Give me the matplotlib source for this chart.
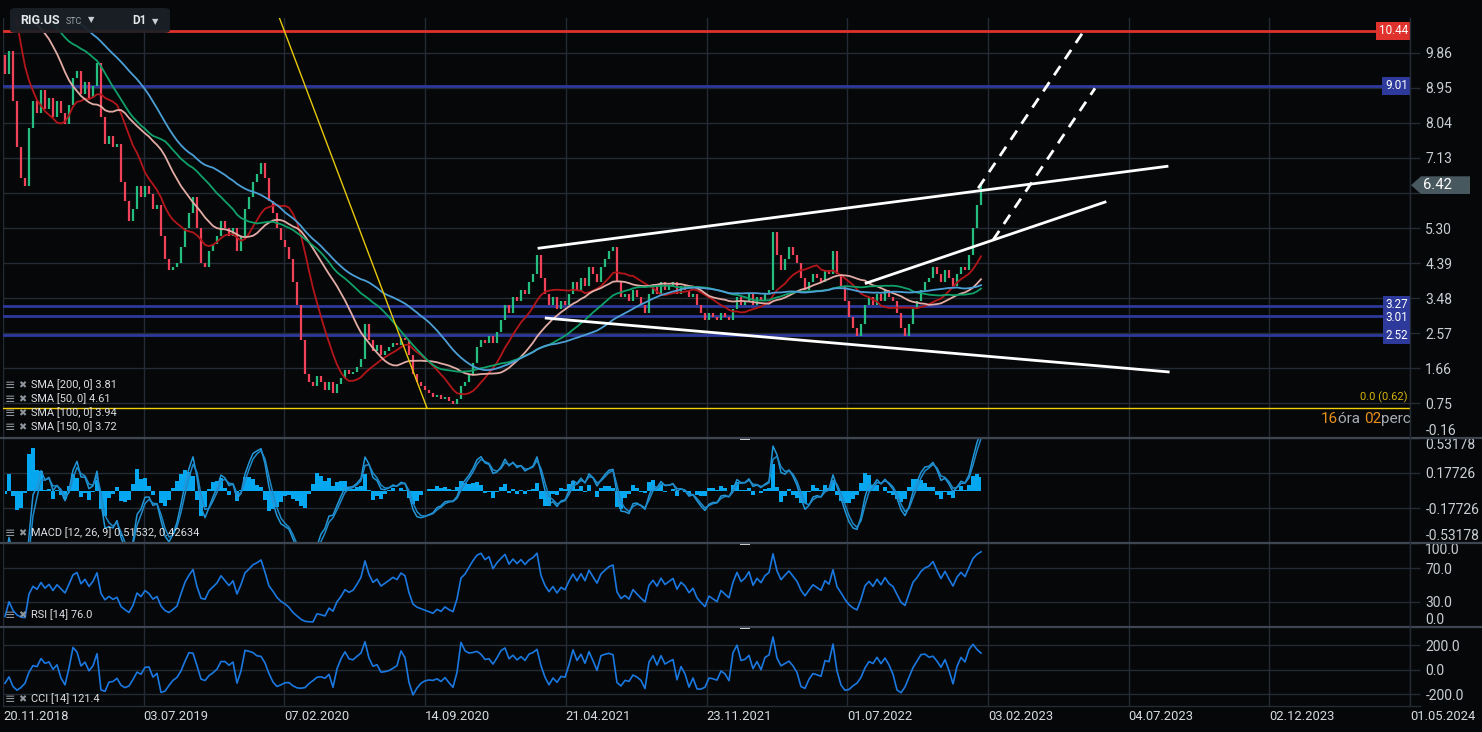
import numpy as np
import pandas as pd
import matplotlib
matplotlib.use("Agg")
import matplotlib.pyplot as plt
from matplotlib.patches import Polygon, FancyBboxPatch, Rectangle
from matplotlib.lines import Line2D
from matplotlib.transforms import blended_transform_factory

plt.rcParams['font.family'] = ['Roboto', 'DejaVu Sans']

# closes before the visible window (only used to warm up the averages), Feb..Nov 2018
pre_closes = [9.6, 9.4, 9.7, 9.9,
              9.8, 9.6, 10.0, 9.9, 10.1,
              10.4, 10.9, 11.3, 11.6, 11.9,
              12.2, 12.6, 12.9, 12.5, 12.8,
              13.0, 13.4, 13.1, 13.3, 13.4,
              12.9, 12.6, 12.8, 12.3, 12.1,
              11.6, 11.3, 11.2, 11.0, 11.5,
              12.1, 12.7, 13.3, 13.8, 13.9,
              13.6, 13.0, 12.4, 11.8, 11.2,
              10.6, 10.2, 9.8]

# RIG.US closes, one value every ~4 sessions, 20.11.2018 .. end of Jan 2023
closes = [9.3, 9.9, 8.6, 7.4, 6.6, 6.4, 7.9, 8.6, 8.3, 8.9,
          8.4, 8.7, 8.2, 8.6, 8.3, 8.0, 8.5, 9.2, 9.4, 8.8,
          9.1, 8.7, 9.0, 9.6, 8.2, 7.5, 7.7, 7.4, 7.5, 6.5,
          6.0, 5.5, 5.8, 6.4, 6.1, 6.4, 6.2, 5.8, 5.9, 5.1,
          4.5, 4.2, 4.3, 4.4, 4.8, 5.3, 5.7, 6.1, 5.3, 4.4,
          4.3, 4.7, 4.9, 5.1, 5.5, 5.3, 5.1, 5.3, 4.7, 5.1,
          5.8, 6.1, 6.5, 6.7, 7.0, 6.6, 6.0, 5.7, 5.3, 5.0,
          4.8, 4.5, 3.9, 3.3, 2.4, 1.5, 1.3, 1.2, 1.45, 1.3,
          1.1, 1.3, 1.0, 1.25, 1.4, 1.6, 1.5, 1.55, 1.7, 1.9,
          2.8, 2.4, 2.1, 2.25, 2.0, 2.1, 2.2, 2.3, 2.25, 2.45,
          2.4, 2.0, 1.5, 1.3, 1.2, 1.1, 1.0, 0.9, 0.95, 0.85,
          0.9, 0.8, 0.72, 0.85, 1.2, 1.3, 1.5, 1.8, 2.2, 2.4,
          2.3, 2.5, 2.3, 2.6, 2.9, 3.3, 3.1, 3.5, 3.4, 3.7,
          3.6, 3.9, 4.1, 4.6, 4.0, 3.6, 3.3, 3.5, 3.2, 3.4,
          3.3, 3.6, 3.9, 3.7, 4.0, 3.8, 4.3, 4.1, 3.9, 4.3,
          4.5, 4.7, 4.8, 3.9, 3.5, 3.6, 3.4, 3.7, 3.5, 3.3,
          3.1, 3.6, 3.8, 3.6, 3.9, 3.7, 3.8, 3.9, 3.6, 3.8,
          3.7, 3.5, 3.6, 3.3, 3.1, 2.9, 3.1, 3.0, 2.9, 3.1,
          3.0, 2.9, 3.2, 3.5, 3.3, 3.4, 3.6, 3.3, 3.5, 3.4,
          3.6, 3.7, 5.2, 4.6, 4.2, 4.5, 4.8, 4.6, 4.4, 4.0,
          3.7, 3.9, 4.1, 4.0, 3.9, 4.2, 4.1, 4.7, 4.1, 3.8,
          3.4, 3.0, 2.7, 2.5, 2.8, 3.3, 3.5, 3.3, 3.6, 3.4,
          3.7, 3.5, 3.4, 3.1, 2.7, 2.5, 2.8, 3.2, 3.4, 3.7,
          3.9, 4.0, 4.3, 4.1, 3.9, 4.2, 4.0, 3.8, 4.1, 4.3,
          4.2, 4.6, 5.3, 5.9, 6.42]

date_labels = ['20.11.2018', '03.07.2019', '07.02.2020', '14.09.2020', '21.04.2021',
               '23.11.2021', '01.07.2022', '03.02.2023', '04.07.2023', '02.12.2023',
               '01.05.2024']

sma_days = [50, 100, 150, 200]
sma_colors = ['#b3161a', '#e2aca6', '#10a06a', '#4c9fd6']
legend_rows = ['SMA [200, 0] 3.81', 'SMA [50, 0] 4.61', 'SMA [100, 0] 3.94', 'SMA [150, 0] 3.72']

levels = [10.44, 9.01, 3.27, 3.01, 2.52]
level_colors = ['#e0322c', '#2d3a9c', '#2d3a9c', '#2d3a9c', '#2d3a9c']
fib_price = 0.62

price_ticks = [9.86, 8.95, 8.04, 7.13, 6.21, 5.30, 4.39, 3.48, 2.57, 1.66, 0.75, -0.16]
macd_ticks = [0.53178, 0.17726, -0.17726, -0.53178]
rsi_ticks = [100.0, 70.0, 30.0, 0.0]
cci_ticks = [200.0, 0.0, -200.0]

# drawing-tool anchors: (bar, price) pairs
yellow_line = ([68.5, 105.5], [10.80, 0.62])
channel_top = ([133.5, 290.5], [4.78, 6.91])
channel_bottom = ([135.3, 290.8], [2.96, 1.56])
rising_line = ([215.3, 275.0], [3.87, 5.98])
dash_a = ([243.3, 269.5], [6.34, 10.40])
dash_b = ([247.0, 272.5], [4.99, 8.94])

DAYS_PER_BAR = 4.25

W, H = 1482, 732
BG = '#060708'
GRID = '#242b34'
TXT = '#c9ced4'
UP = '#25be80'
DOWN = '#f0435a'
ICON = '#8e959d'
LABEL = '#dcdfe3'

fig = plt.figure(figsize=(W / 100, H / 100), dpi=100, facecolor=BG)


def box(x0, y0, x1, y1):
    return [x0 / W, 1 - y1 / H, (x1 - x0) / W, (y1 - y0) / H]


def px(x, y):
    return x / W, 1 - y / H


def legend_line(yy, text):
    fig.text(*px(5, yy), '≡', color=ICON, fontsize=9, va='center', ha='left')
    fig.text(*px(18, yy), '✖', color=ICON, fontsize=7, va='center', ha='left')
    fig.text(*px(31, yy), text, color=LABEL, fontsize=7.9, va='center', ha='left')


ax_p = fig.add_axes(box(3, 18, 1410, 438))
ax_m = fig.add_axes(box(3, 438, 1410, 543))
ax_r = fig.add_axes(box(3, 543, 1410, 627))
ax_c = fig.add_axes(box(3, 627, 1410, 706))
axes = [ax_p, ax_m, ax_r, ax_c]

full = pd.Series(pre_closes + closes, dtype=float)
npre = len(pre_closes)
c = np.array(closes)
x = np.arange(len(c))
xmin, xmax = -0.5, 351.25
grid_x = np.linspace(xmin, xmax, len(date_labels))

for ax in axes:
    ax.set_facecolor(BG)
    ax.set_xlim(xmin, xmax)
    for s in ax.spines.values():
        s.set_visible(False)
    ax.yaxis.tick_right()
    ax.set_xticks(grid_x)
    ax.tick_params(axis='x', length=0, labelbottom=False)
    ax.tick_params(axis='y', length=7, width=1, color=GRID, labelcolor=TXT,
                   labelsize=10, pad=4)
    ax.grid(True, color=GRID, lw=1)
    ax.set_axisbelow(True)

# ---- price panel
ax_p.set_ylim(-0.16, 10.77)
# 6.21 sits under the last-price tag, so only its grid line shows
ax_p.set_yticks(price_ticks, ['' if v == 6.21 else '%.2f' % v for v in price_ticks])

opens = np.r_[pre_closes[-1], c[:-1]]
up = c >= opens
ax_p.vlines(x[up], opens[up], c[up], color=UP, lw=1.6, zorder=3)
ax_p.vlines(x[~up], opens[~up], c[~up], color=DOWN, lw=1.6, zorder=3)

for d, col in zip(sma_days, sma_colors):
    win = int(round(d / DAYS_PER_BAR))
    sma = full.rolling(win).mean().to_numpy()[npre:]
    ax_p.plot(x, sma, color=col, lw=1.3, zorder=4)

for lv, col in zip(levels, level_colors):
    ax_p.axhline(lv, color=col, lw=2, zorder=2)
ax_p.axhline(fib_price, color='#f2cf0a', lw=1, zorder=2)
ax_p.plot(*yellow_line, color='#e8c80c', lw=1, zorder=5)

for ln in (channel_top, channel_bottom, rising_line):
    ax_p.plot(*ln, color='white', lw=2, zorder=6)
for ln in (dash_a, dash_b):
    ax_p.plot(*ln, color='white', lw=2, ls=(0, (4, 3)), zorder=6)

# level price boxes; the two close ones share one box as on the platform
ytr = blended_transform_factory(ax_p.transAxes, ax_p.transData)
boxes = [([levels[0]], level_colors[0]), ([levels[1]], level_colors[1]),
         (levels[2:4], level_colors[2]), ([levels[4]], level_colors[4])]
for vals, col in boxes:
    ax_p.text(0.9985, np.mean(vals), '\n'.join('%.2f' % v for v in vals), transform=ytr,
              ha='right', va='center', color='white', fontsize=8.4, linespacing=0.95,
              zorder=10, bbox=dict(boxstyle='square,pad=0.22', fc=col, ec='none'))

# last price tag outside the axis
ftr = blended_transform_factory(fig.transFigure, ax_p.transData)
last = c[-1]
tag = Polygon([(1411 / W, last), (1421 / W, last + 0.23), (1470 / W, last + 0.23),
               (1470 / W, last - 0.23), (1421 / W, last - 0.23)],
              closed=True, transform=ftr, fc='#48585f', ec='none', zorder=20)
fig.add_artist(tag)
fig.text(1423 / W, last, '%.2f' % last, transform=ftr, ha='left', va='center',
         color='white', fontsize=10.6, zorder=21)

ax_p.text(0.9985, fib_price + 0.12, '0.0 (0.62)', transform=ytr, ha='right', va='bottom',
          color='#d6b40a', fontsize=8, zorder=10)
t1 = ax_p.text(1.0008, 0.046, 'perc', transform=ax_p.transAxes, ha='right', va='center',
               color='#a7adb4', fontsize=11, zorder=10)
t2 = ax_p.annotate('02', xy=(0, 0.5), xycoords=t1, ha='right', va='center',
                   color='#e8901c', fontsize=11, zorder=10)
t3 = ax_p.annotate('óra ', xy=(0, 0.5), xycoords=t2, ha='right', va='center',
                   color='#a7adb4', fontsize=11, zorder=10)
ax_p.annotate('16', xy=(0, 0.5), xycoords=t3, ha='right', va='center',
              color='#e8901c', fontsize=11, zorder=10)

for i, row in enumerate(legend_rows):
    legend_line(385 + 14 * i, row)

# ---- MACD panel
fast = full.ewm(span=12 / DAYS_PER_BAR, adjust=False).mean()
slow = full.ewm(span=26 / DAYS_PER_BAR, adjust=False).mean()
macd = fast - slow
signal = macd.ewm(span=9 / DAYS_PER_BAR, adjust=False).mean()
# the platform draws the histogram at twice the macd-signal gap
hist = 2 * (macd - signal).to_numpy()[npre:]
ax_m.set_ylim(-0.53178, 0.53178)
ax_m.set_yticks(macd_ticks, ['%.5f' % v for v in macd_ticks])
ax_m.fill_between(x, 0, hist, step='mid', color='#05a8f0', lw=0, zorder=3)
ax_m.plot(x, macd.to_numpy()[npre:], color='#2196d8', lw=1.1, zorder=4)
ax_m.plot(x, signal.to_numpy()[npre:], color='#1e88c8', lw=1.1, zorder=4)
legend_line(533, 'MACD [12, 26, 9] 0.51532, 0.42634')

# ---- RSI panel
delta = full.diff()
n_rsi = 6
gain = delta.clip(lower=0).ewm(alpha=1 / n_rsi, adjust=False).mean()
loss = (-delta.clip(upper=0)).ewm(alpha=1 / n_rsi, adjust=False).mean()
rsi = (100 - 100 / (1 + gain / loss)).to_numpy()[npre:]
ax_r.set_ylim(0, 100)
ax_r.set_yticks(rsi_ticks, ['%.1f' % v for v in rsi_ticks])
ax_r.plot(x, rsi, color='#1a78e0', lw=1.2, zorder=3)
legend_line(615, 'RSI [14] 76.0')

# ---- CCI panel
n_cci = 8
tp_mean = full.rolling(n_cci).mean()
mad = full.rolling(n_cci).apply(lambda v: np.mean(np.abs(v - v.mean())), raw=True)
cci = ((full - tp_mean) / (0.015 * mad)).to_numpy()[npre:]
ax_c.set_ylim(-294, 347)
ax_c.set_yticks(cci_ticks, ['%.1f' % v for v in cci_ticks])
ax_c.plot(x, cci, color='#1a78e0', lw=1.2, zorder=3)
legend_line(699, 'CCI [14] 121.4')

ax_c.tick_params(axis='x', labelbottom=True, labelcolor='#d6dade', labelsize=9.4, pad=3)
ax_c.set_xticklabels(date_labels, ha='left')

# edge tick labels pushed inside their panel
for ax, top, bottom in ((ax_p, None, -1), (ax_m, 0, -1), (ax_r, 0, -1)):
    ticks = ax.yaxis.get_major_ticks()
    if top is not None:
        ticks[top].label2.set_va('top')
    ticks[bottom].label2.set_va('bottom')

# panel separators and handles
for yy in (438, 543, 627):
    fig.add_artist(Line2D([0, 1], [1 - yy / H] * 2, color='#3e4651', lw=1.6))
    fig.add_artist(Rectangle(px(740, yy + 1.5), 10 / W, 3 / H, fc='#d9d9d9', ec='none'))
fig.add_artist(Line2D([3 / W, 1420 / W], [1 - 706 / H] * 2, color=GRID, lw=1))
fig.add_artist(Line2D([1410 / W] * 2, [1 - 706 / H, 1 - 18 / H], color=GRID, lw=1))

# symbol toolbar
fig.add_artist(FancyBboxPatch(px(10, 33), 160 / W, 25 / H,
                              boxstyle='round,pad=0,rounding_size=0.004',
                              fc='#1a2026', ec='none', alpha=0.93, zorder=30))
fig.text(*px(20, 21), 'RIG.US', color='#e4e7ea', fontsize=9, fontweight='bold',
         va='center', zorder=31)
fig.text(*px(66, 22), 'STC', color='#9aa1a8', fontsize=6.4, va='center', zorder=31)
fig.text(*px(88, 20), '▼', color='#c9ced4', fontsize=6, va='center', zorder=31)
fig.text(*px(132, 21), 'D1', color='#e4e7ea', fontsize=8.4, fontweight='bold',
         va='center', zorder=31)
fig.text(*px(152, 22), '▼', color='#c9ced4', fontsize=6, va='center', zorder=31)

fig.savefig('out.png', dpi=100, facecolor=BG)
